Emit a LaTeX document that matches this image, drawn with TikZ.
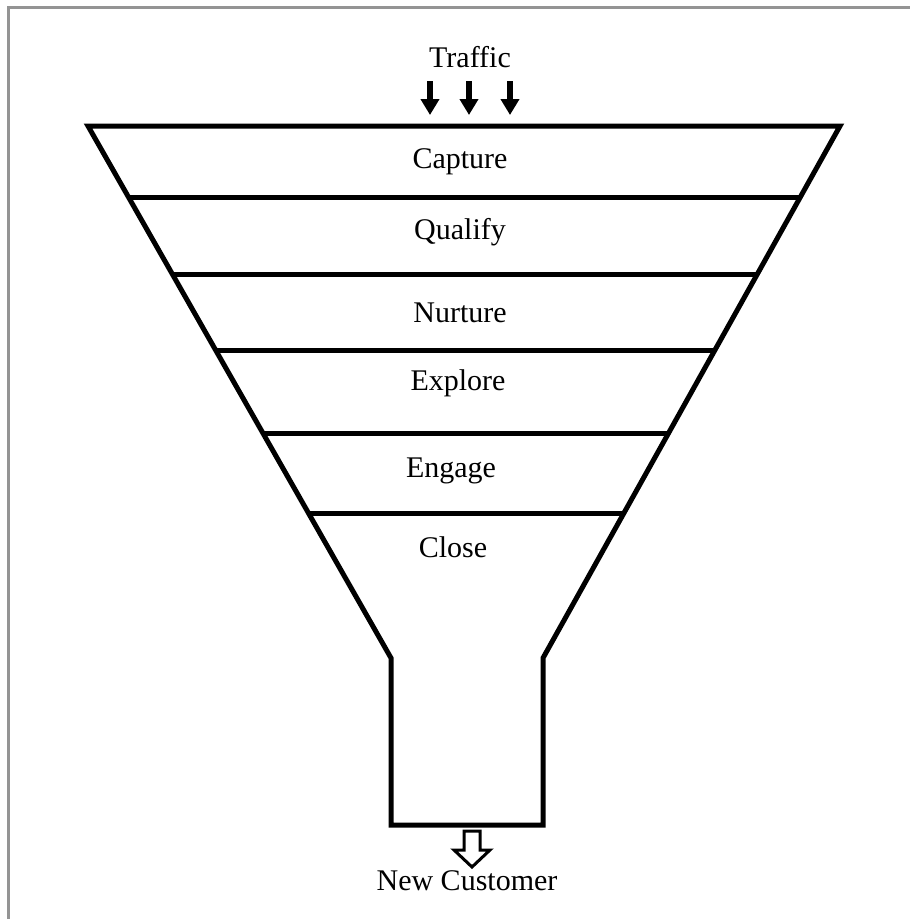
\documentclass[tikz,border=0pt]{standalone}
\usepackage{fontspec}
\setmainfont{Liberation Serif}
\usetikzlibrary{calc,arrows.meta}
\begin{document}
\begin{tikzpicture}[x=1pt,y=-1pt,
  funnel/.style={line width=5pt,black},
  lbl/.style={font=\fontsize{30}{33}\selectfont,inner sep=0pt,anchor=base},
  inarrow/.style={line width=6pt,-{Triangle[width=18pt,length=16pt]}},
  frame/.style={line width=3pt,draw=black!42}]
\useasboundingbox (0,0) rectangle (910,919);
\draw[frame] (8,919) -- (8,7.5) -- (910,7.5);
% funnel corners
\coordinate (TL) at (88,126);
\coordinate (TR) at (840,126);
\coordinate (BL) at (391,658);
\coordinate (BR) at (543,658);
\coordinate (NL) at (391,825);
\coordinate (NR) at (543,825);
\draw[funnel,line join=miter] (TL) -- (TR) -- (BR) -- (NR) -- (NL) -- (BL) -- cycle;
% band separators
\foreach \t/\n in {0.1353/a,0.2782/b,0.4211/c,0.5771/d,0.7293/e}{
  \coordinate (L\n) at ($(TL)!\t!(BL)$);
  \coordinate (R\n) at ($(TR)!\t!(BR)$);
  \draw[funnel] (L\n) -- (R\n);
}
% labels
\node[lbl] (traffic) at (470,67) {Traffic};
\node[lbl] (capture) at (460,168) {Capture};
\node[lbl] (qualify) at (460,239) {Qualify};
\node[lbl] (nurture) at (460,322) {Nurture};
\node[lbl] (explore) at (458,390) {Explore};
\node[lbl] (engage) at (451,477) {Engage};
\node[lbl] (close) at (453,557) {Close};
\node[lbl] (newc) at (467,890) {New Customer};
% traffic arrows
\foreach \x/\n in {430/1,469/2,510/3}{
  \coordinate (s\n) at (\x,81);
  \coordinate (e\n) at (\x,115);
  \draw[inarrow] (s\n) -- (e\n);
}
% hollow output arrow
\draw[line width=3pt,fill=white,line join=miter]
  (464,831) -- (480,831) -- (480,850) -- (490,850) -- (472,867) -- (454,850) -- (464,850) -- cycle;
\end{tikzpicture}
\end{document}
